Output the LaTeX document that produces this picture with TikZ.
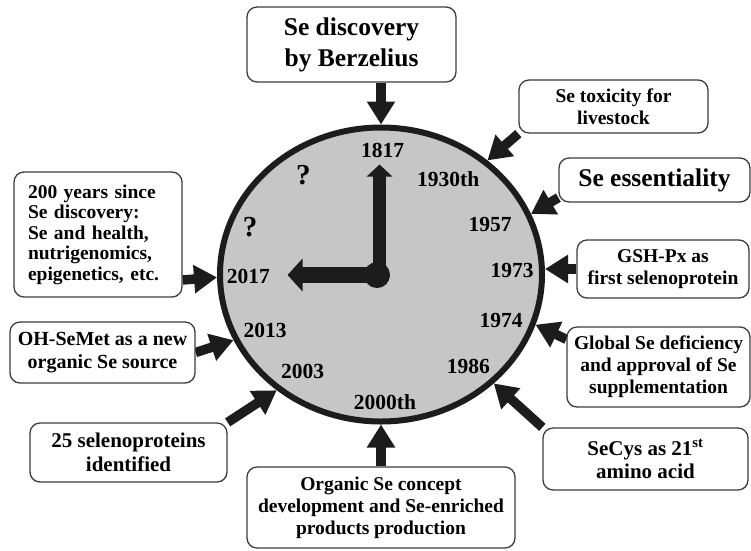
\documentclass[tikz,border=0pt]{standalone}
\usepackage{fontspec}
\setmainfont{Liberation Serif}
\usetikzlibrary{arrows.meta,shapes.geometric,calc,backgrounds}
\definecolor{clockgray}{RGB}{198,198,198}
\definecolor{ink}{RGB}{28,28,28}
\definecolor{boxline}{RGB}{60,60,60}
\begin{document}
\begin{tikzpicture}[x=1pt,y=-1pt,
  box/.style={draw=boxline, line width=1.3pt, rounded corners=10pt, fill=white, align=center, inner sep=0pt},
  bigtxt/.style={font=\bfseries\fontsize{25.5}{31}\selectfont},
  smalltxt/.style={font=\bfseries\fontsize{19.5}{22}\selectfont},
  midtxt/.style={font=\bfseries\fontsize{21}{23.5}\selectfont},
  yeartxt/.style={font=\bfseries\fontsize{21.5}{23}\selectfont, inner sep=0pt},
  qtxt/.style={font=\bfseries\fontsize{29}{30}\selectfont, inner sep=0pt},
  conn/.style={draw=ink, line width=9.5pt, -{Triangle[length=23pt,width=27pt]}},
]
\useasboundingbox (0,0) rectangle (751,550);

% clock face
\node[ellipse, draw=ink, line width=6pt, fill=clockgray, minimum width=322pt, minimum height=294pt, inner sep=0pt] (clock) at (381,274.5) {};

% hands
\coordinate (hub) at (377,275);
\coordinate (mtip) at (379.5,164.5);
\coordinate (htip) at (287.5,275);
\draw[ink, line width=13pt, -{Triangle[length=12pt,width=25pt]}] (hub -| mtip) -- (mtip);
\draw[ink, line width=15.5pt, -{Triangle[length=15pt,width=32pt]}] (hub) -- (htip);
\fill[ink] (hub) circle (13pt);

% years
\node[yeartxt] (y1817) at (382.7,150) {1817};
\node[yeartxt] (y1930) at (448.3,179.3) {1930th};
\node[yeartxt] (y1957) at (490,224) {1957};
\node[yeartxt] (y1973) at (512,270) {1973};
\node[yeartxt] (y1974) at (501,320) {1974};
\node[yeartxt] (y1986) at (468.3,366.7) {1986};
\node[yeartxt] (y2000) at (385,401.7) {2000th};
\node[yeartxt] (y2003) at (302.7,371.7) {2003};
\node[yeartxt] (y2013) at (265,330) {2013};
\node[yeartxt] (y2017) at (248.3,276.7) {2017};
\node[qtxt] (q1) at (303.3,175) {?};
\node[qtxt] (q2) at (250,226.7) {?};

% boxes
\node[box, bigtxt, minimum width=209pt, minimum height=75pt] (top) at (351.5,44.5) {Se discovery\\by Berzelius};
\node[box, smalltxt, minimum width=189pt, minimum height=53pt] (tox) at (613.5,106.5) {Se toxicity for\\livestock};
\node[box, bigtxt, minimum width=191pt, minimum height=44pt] (ess) at (654.5,180) {Se essentiality};
\node[box, smalltxt, minimum width=172pt, minimum height=58pt] (gsh) at (663,269) {GSH-Px as\\first selenoprotein};
\node[box, smalltxt, minimum width=183pt, minimum height=80pt] (glob) at (658.5,367) {Global Se deficiency\\and approval of Se\\supplementation};
\node[box, midtxt, minimum width=205pt, minimum height=62pt] (secys) at (645.5,459) {SeCys as 21\textsuperscript{st}\\amino acid};
\node[box, smalltxt, minimum width=268pt, minimum height=81pt] (org) at (381,507.5) {Organic Se concept\\development and Se-enriched\\products production};
\node[box, midtxt, minimum width=197pt, minimum height=59pt] (sel) at (128.5,452.5) {25 selenoproteins\\identified};
\node[box, font=\bfseries\fontsize{20}{23}\selectfont, minimum width=185pt, minimum height=61pt] (ohs) at (102.5,352.5) {OH-SeMet as a new\\organic Se source};
\node[box, font=\bfseries\fontsize{19.5}{20.5}\selectfont, align=left, text width=140pt, inner xsep=14pt, minimum height=125pt] (y200) at (98,234.5) {200 years since\\Se discovery:\\Se and health,\\nutrigenomics,\\epigenetics, etc.};

% connectors
\begin{pgfonlayer}{background}
\draw[conn] (top.south -| clock.90) -- (clock.90);
\draw[conn] (tox.south west) -- (clock.47.8);
\draw[conn] ($(ess.south west)!0.11!(ess.north west)$) -- (clock.22.1);
\draw[conn] (gsh.west) -- (gsh.west -| clock.east);
\draw[conn] ($(glob.north west)!0.16!(glob.south west)$) -- (clock.-18.9);
\draw[conn] (secys.north west) -- (clock.-44.1);
\draw[conn] (org.north -| clock.270) -- (clock.270);
\draw[conn] (sel.north east) -- (clock.228);
\draw[conn] (ohs.east) -- (clock.204.2);
\draw[conn] ($(y200.north east)!0.86!(y200.south east)$) -- (clock.181.2);
\end{pgfonlayer}
\end{tikzpicture}
\end{document}
